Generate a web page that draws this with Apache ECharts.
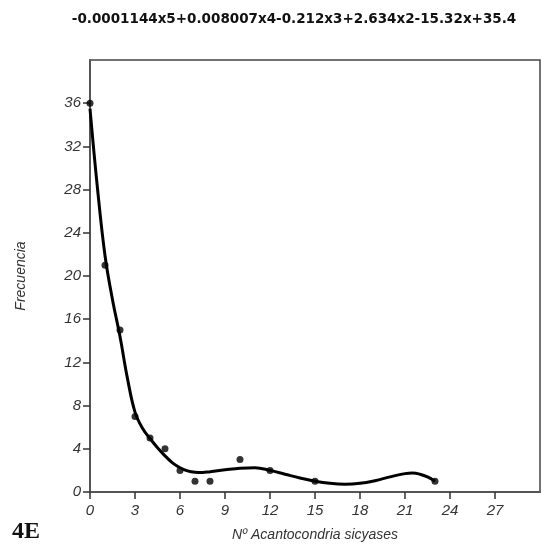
<!DOCTYPE html>
<html>
<head>
<meta charset="utf-8">
<script src="https://cdn.jsdelivr.net/npm/echarts@6/dist/echarts.min.js"></script>
<style>
  html, body { margin: 0; padding: 0; background: #fff; }
  #chart { width: 558px; height: 547px; }
</style>
</head>
<body>
<div id="chart"></div>
<script>
// observed points
const obsX = [0, 1, 2, 3, 4, 5, 6, 7, 8, 10, 12, 15, 23];
const obsY = [36, 21, 15, 7, 5, 4, 2, 1, 1, 3, 2, 1, 1];

// fitted curve
const fitX = [0, 0.5, 1, 1.5, 2, 2.5, 3, 3.5, 4, 4.5, 5, 5.5, 6, 6.5, 7, 7.5, 8, 9, 10, 11, 12, 13, 14, 15, 16, 17, 18, 19, 20, 21, 21.5, 22, 22.5, 23];
const fitY = [35.5, 28.1, 21.9, 17.8, 14.4, 10.5, 7.4, 5.9, 4.95, 4.1, 3.35, 2.7, 2.25, 1.95, 1.82, 1.8, 1.88, 2.05, 2.2, 2.25, 2.0, 1.65, 1.3, 1.0, 0.8, 0.72, 0.8, 1.05, 1.4, 1.7, 1.76, 1.65, 1.4, 1.0];

// tick labels shown
const xTicks = [0, 3, 6, 9, 12, 15, 18, 21, 24, 27];
const yTicks = [0, 4, 8, 12, 16, 20, 24, 28, 32, 36];

const titleText = '-0.0001144x5+0.008007x4-0.212x3+2.634x2-15.32x+35.4';

const chart = echarts.init(document.getElementById('chart'));

const axisText = {
  color: '#333',
  fontFamily: 'Liberation Sans',
  fontStyle: 'italic',
  fontSize: 15
};

const option = {
  animation: false,
  backgroundColor: '#fff',
  title: {
    text: titleText,
    left: 289,
    textAlign: 'center',
    top: 7,
    textStyle: {
      fontFamily: 'DejaVu Sans',
      fontWeight: 'bold',
      fontSize: 13.5,
      color: '#111'
    }
  },
  graphic: [{
    type: 'text',
    left: 12,
    top: 520,
    style: {
      text: '4E',
      font: 'bold 24px "Liberation Serif"',
      fill: '#111'
    }
  }],
  grid: {
    left: 90,
    right: 18,
    top: 60,
    bottom: 55,
    show: true,
    borderColor: '#444',
    borderWidth: 1.5
  },
  xAxis: {
    type: 'value',
    min: 0,
    max: 30,
    interval: 3,
    name: 'Nº Acantocondria sicyases',
    nameLocation: 'middle',
    nameGap: 36,
    nameTextStyle: { color: '#333', fontFamily: 'Liberation Sans', fontStyle: 'italic', fontSize: 14 },
    axisLine: { show: true, onZero: false, lineStyle: { color: '#555', width: 2 } },
    axisTick: { show: true, inside: false, length: 7, customValues: xTicks, lineStyle: { color: '#333', width: 1.5 } },
    axisLabel: Object.assign({ margin: 11, customValues: xTicks }, axisText),
    splitLine: { show: false }
  },
  yAxis: {
    type: 'value',
    min: 0,
    max: 40,
    interval: 4,
    name: 'Frecuencia',
    nameLocation: 'middle',
    nameGap: 62,
    nameTextStyle: { color: '#333', fontFamily: 'Liberation Sans', fontStyle: 'italic', fontSize: 14 },
    axisLine: { show: true, onZero: false, lineStyle: { color: '#555', width: 2 } },
    axisTick: { show: true, inside: false, length: 7, customValues: yTicks, lineStyle: { color: '#333', width: 1.5 } },
    axisLabel: Object.assign({ margin: 9, customValues: yTicks }, axisText),
    splitLine: { show: false }
  },
  series: [{
    name: 'ajuste',
    type: 'line',
    data: fitX.map((x, i) => [x, fitY[i]]),
    smooth: 0.4,
    showSymbol: false,
    lineStyle: { color: '#000', width: 3 },
    z: 2
  }, {
    name: 'observado',
    type: 'scatter',
    data: obsX.map((x, i) => [x, obsY[i]]),
    symbolSize: 7,
    itemStyle: { color: '#000' },
    z: 3
  }]
};

chart.setOption(option);
</script>
</body>
</html>
